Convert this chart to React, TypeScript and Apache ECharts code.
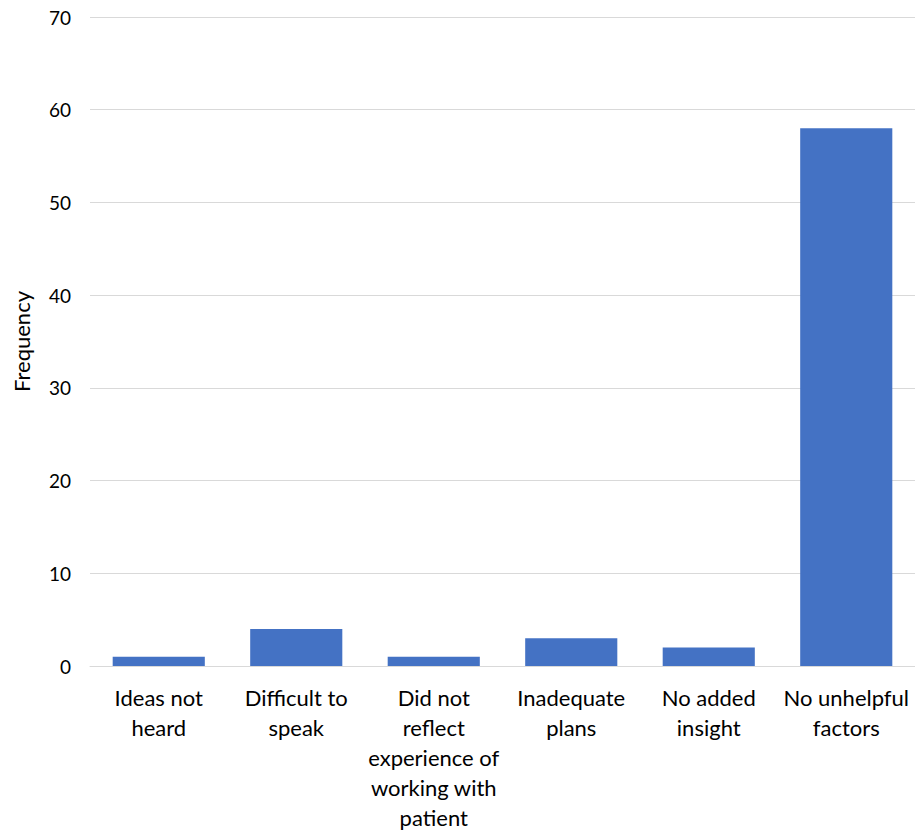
import React, { useEffect, useRef } from "react";
import * as echarts from "echarts";

const categories = [
  "Ideas not\nheard",
  "Difficult to\nspeak",
  "Did not\nreflect\nexperience of\nworking with\npatient",
  "Inadequate\nplans",
  "No added\ninsight",
  "No unhelpful\nfactors",
];
const frequencies = [1, 4, 1, 3, 2, 58];
const yMin = 0;
const yMax = 70;
const yInterval = 10;

const FONT = "Lato, 'Open Sans', sans-serif";

export default function App() {
  const ref = useRef<HTMLDivElement>(null);
  useEffect(() => {
    if (!ref.current) return;
    const chart = echarts.init(ref.current, null, { renderer: "svg" });
    chart.setOption({
      animation: false,
      backgroundColor: "#ffffff",
      grid: { left: 90, right: 0, top: 17, bottom: 166, containLabel: false },
      xAxis: {
        type: "category",
        data: categories,
        axisLine: { show: true, lineStyle: { color: "#d9d9d9", width: 1 } },
        axisTick: { show: false },
        axisLabel: {
          interval: 0,
          color: "#000000",
          fontFamily: FONT,
          fontSize: 22,
          lineHeight: 30,
          margin: 16,
        },
      },
      yAxis: {
        type: "value",
        min: yMin,
        max: yMax,
        interval: yInterval,
        name: "Frequency",
        nameLocation: "middle",
        nameGap: 58,
        nameTextStyle: { color: "#000000", fontFamily: FONT, fontSize: 22 },
        axisLine: { show: false },
        axisTick: { show: false },
        axisLabel: { color: "#000000", fontFamily: FONT, fontSize: 19, margin: 19 },
        splitLine: { lineStyle: { color: "#d9d9d9", width: 1 } },
      },
      series: [
        {
          type: "bar",
          data: frequencies,
          barCategoryGap: "33%",
          itemStyle: { color: "#4472c4" },
        },
      ],
    });
    return () => chart.dispose();
  }, []);
  return (
    <div
      ref={ref}
      style={{ position: "absolute", left: 0, top: 0, width: 915, height: 832 }}
    />
  );
}
